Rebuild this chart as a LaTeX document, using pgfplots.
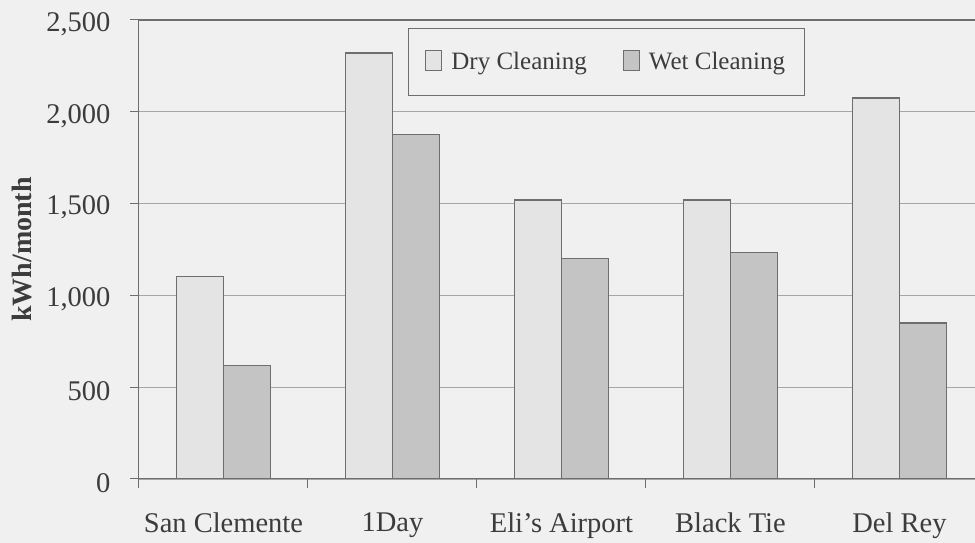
\documentclass[border=0pt]{standalone}
\usepackage{fontspec}
\setmainfont{Liberation Serif}
\usepackage{pgfplots}
\pgfplotsset{compat=1.18}

\definecolor{paper}{HTML}{F0F0F0}
\definecolor{dryc}{HTML}{E4E4E4}
\definecolor{wetc}{HTML}{C4C4C4}
\definecolor{edgec}{HTML}{6E6E6E}
\definecolor{gridc}{HTML}{A6A6A6}
\definecolor{txt}{HTML}{3C3C3C}

\begin{document}
\begin{tikzpicture}
\fill[paper] (-139pt,-64pt) rectangle (836pt,479pt);
\begin{axis}[
  at={(0,0)}, anchor=south west,
  scale only axis, width=845pt, height=459pt,
  xmin=-0.5, xmax=4.5,
  ymin=0, ymax=2500,
  ytick={0,500,...,2500},
  extra y ticks={2500}, extra y tick labels={},
  extra y tick style={major grid style={draw=edgec, line width=1.3pt}},
  xtick={-0.5,0.5,1.5,2.5,3.5},
  xticklabels={San Clemente,1Day,Eli’s Airport,Black Tie,Del Rey},
  x tick label style={xshift=84.5pt, yshift=-21pt},
  y tick label style={xshift=-16pt, yshift=-4pt},
  tick label style={font=\fontsize{28.5}{32}\selectfont, text=txt},
  /pgf/number format/.cd, 1000 sep={,}, assume math mode=true, /pgfplots/.cd,
  axis lines*=left,
  axis line style={draw=edgec, line width=1pt},
  tick align=outside,
  major tick length=9pt,
  tick style={draw=edgec, line width=1pt},
  ymajorgrids,
  grid style={draw=gridc, line width=1.2pt},
  ybar=0pt, bar width=0.28,
  ylabel={\textbf{kWh/month}},
  every axis y label/.style={at={([xshift=-117pt]rel axis cs:0,0.5)}, rotate=90, anchor=center, font=\fontsize{28}{32}\selectfont, text=txt},
  legend columns=2,
  legend image code/.code={\draw[#1] (0pt,-9pt) rectangle (16pt,11pt); \path (23pt,0pt);},
  legend style={at={(0.318,0.983)}, anchor=north west,
    draw=edgec, line width=1pt, fill=paper,
    font=\fontsize{25}{30}\selectfont, text=txt,
    inner xsep=17pt, inner ysep=22pt,
    /tikz/every even column/.append style={column sep=34pt}},
]
\addplot[fill=dryc, draw=edgec, line width=1.2pt] coordinates
  {(0,1105) (1,2320) (2,1520) (3,1520) (4,2075)};
\addplot[fill=wetc, draw=edgec, line width=1.2pt] coordinates
  {(0,618) (1,1878) (2,1202) (3,1235) (4,850)};
\legend{Dry Cleaning, Wet Cleaning}
\end{axis}
\pgfresetboundingbox
\useasboundingbox (-139pt,-64pt) rectangle (836pt,479pt);
\end{tikzpicture}
\end{document}
